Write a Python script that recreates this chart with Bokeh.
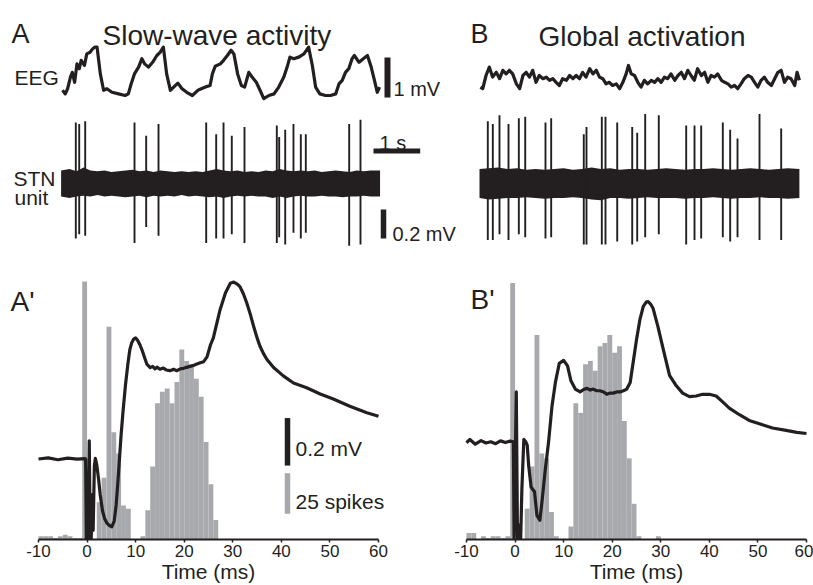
from bokeh.plotting import figure
from bokeh.models import Range1d, LinearAxis, FixedTicker, Label
from bokeh.layouts import column, row
from bokeh.embed import file_html
from bokeh.resources import INLINE

INK = "#231f20"
GREY = "#a7a9ac"
FONT = "Liberation Sans"

# ---------------- data: top traces (time in s, voltage in mV) ----------------
eegA_t = [0.00, 0.06, 0.11, 0.17, 0.21, 0.26, 0.31, 0.36, 0.40, 0.47,
          0.52, 0.59, 0.64, 0.69, 0.74, 0.81, 0.88, 0.95, 1.06, 1.20,
          1.34, 1.41, 1.47, 1.54, 1.63, 1.70, 1.76, 1.84, 1.93, 2.02,
          2.09, 2.16, 2.23, 2.31, 2.38, 2.47, 2.56, 2.66, 2.78, 2.91,
          3.06, 3.16, 3.21, 3.27, 3.38, 3.45, 3.53, 3.61, 3.67, 3.75,
          3.83, 3.90, 3.99, 4.06, 4.15, 4.23, 4.31, 4.42, 4.53, 4.63,
          4.74, 4.81, 4.87, 4.95, 5.06, 5.17, 5.27, 5.35, 5.42, 5.51,
          5.63, 5.74, 5.85, 5.92, 5.99, 6.06, 6.13, 6.20, 6.25, 6.35,
          6.44, 6.53, 6.61, 6.68, 6.74, 6.79]
eegA_v = [0.18, 0.09, 0.22, 0.51, 0.63, 0.38, 0.84, 0.72, 0.93, 0.80,
          1.09, 1.13, 1.21, 1.26, 1.26, 0.59, 0.18, 0.22, 0.13, 0.09,
          0.05, 0.09, 0.34, 0.59, 0.76, 0.97, 0.84, 0.76, 0.88, 1.05,
          1.13, 1.26, 0.59, 0.18, 0.26, 0.36, 0.22, 0.13, 0.05, 0.19,
          0.26, 0.30, 0.59, 0.78, 0.84, 0.93, 1.05, 1.18, 1.09, 0.59,
          0.30, 0.26, 0.63, 0.51, 0.38, 0.18, -0.03, 0.05, 0.09, 0.26,
          0.51, 0.76, 1.01, 0.97, 1.01, 1.09, 1.26, 0.80, 0.26, 0.09,
          0.05, 0.05, 0.09, 0.34, 0.43, 0.63, 0.72, 0.97, 1.05, 0.88,
          0.97, 1.05, 0.76, 0.43, 0.13, 0.26]

eegB_t = [0.02, 0.07, 0.14, 0.21, 0.28, 0.36, 0.43, 0.50, 0.57, 0.64,
          0.71, 0.79, 0.86, 0.93, 1.00, 1.07, 1.14, 1.21, 1.28, 1.36,
          1.43, 1.50, 1.57, 1.64, 1.71, 1.78, 1.86, 1.93, 2.00, 2.07,
          2.14, 2.21, 2.28, 2.36, 2.43, 2.50, 2.57, 2.64, 2.71, 2.78,
          2.85, 2.93, 3.00, 3.07, 3.14, 3.19, 3.25, 3.32, 3.39, 3.46,
          3.53, 3.60, 3.68, 3.75, 3.82, 3.89, 3.96, 4.03, 4.10, 4.18,
          4.25, 4.32, 4.39, 4.46, 4.53, 4.60, 4.67, 4.75, 4.82, 4.89,
          4.96, 5.03, 5.10, 5.18, 5.25, 5.32, 5.39, 5.46, 5.53, 5.60,
          5.67, 5.75, 5.82, 5.89, 5.96, 6.03, 6.10, 6.17, 6.25, 6.32,
          6.39, 6.46, 6.53, 6.60, 6.67, 6.75, 6.80, 6.85]
eegB_v = [0.26, 0.22, 0.55, 0.76, 0.51, 0.63, 0.47, 0.68, 0.59, 0.68,
          0.59, 0.34, 0.22, 0.55, 0.63, 0.51, 0.68, 0.38, 0.55, 0.47,
          0.51, 0.43, 0.47, 0.38, 0.30, 0.47, 0.43, 0.55, 0.47, 0.55,
          0.47, 0.63, 0.51, 0.72, 0.59, 0.68, 0.51, 0.47, 0.34, 0.38,
          0.30, 0.34, 0.22, 0.38, 0.59, 0.80, 0.59, 0.55, 0.38, 0.26,
          0.43, 0.34, 0.43, 0.38, 0.47, 0.38, 0.51, 0.47, 0.59, 0.43,
          0.55, 0.63, 0.47, 0.68, 0.55, 0.43, 0.72, 0.55, 0.63, 0.38,
          0.55, 0.51, 0.59, 0.43, 0.38, 0.34, 0.26, 0.30, 0.22, 0.34,
          0.47, 0.55, 0.51, 0.38, 0.26, 0.43, 0.51, 0.38, 0.30, 0.47,
          0.63, 0.68, 0.38, 0.51, 0.47, 0.30, 0.63, 0.43]

# STN unit: background noise envelope (mV) and spikes (time s, peak mV, trough mV)
bandA_t = [-0.03, 0.15, 0.3, 0.45, 0.6, 0.75, 0.9, 1.05, 1.2, 1.35, 1.5, 1.65,
           1.8, 1.95, 2.1, 2.25, 2.4, 2.55, 2.7, 2.85, 3.0, 3.15, 3.3, 3.45,
           3.6, 3.75, 3.9, 4.05, 4.2, 4.35, 4.5, 4.65, 4.8, 4.95, 5.1, 5.25,
           5.4, 5.55, 5.7, 5.85, 6.0, 6.15, 6.3, 6.45, 6.6, 6.80]
bandA_hi = [0.09, 0.10, 0.085, 0.11, 0.09, 0.085, 0.09, 0.08, 0.085, 0.09, 0.095, 0.085,
            0.09, 0.08, 0.09, 0.085, 0.08, 0.085, 0.08, 0.085, 0.08, 0.09, 0.10, 0.09,
            0.085, 0.09, 0.08, 0.085, 0.08, 0.09, 0.085, 0.10, 0.09, 0.085, 0.09, 0.085,
            0.09, 0.08, 0.085, 0.09, 0.085, 0.08, 0.09, 0.085, 0.09, 0.09]
bandA_lo = [-0.09, -0.10, -0.09, -0.085, -0.09, -0.08, -0.09, -0.085, -0.09, -0.095, -0.09, -0.085,
            -0.095, -0.085, -0.09, -0.085, -0.09, -0.08, -0.09, -0.085, -0.09, -0.095, -0.09, -0.10,
            -0.09, -0.085, -0.09, -0.085, -0.09, -0.09, -0.1, -0.09, -0.10, -0.09, -0.085, -0.09,
            -0.09, -0.085, -0.09, -0.09, -0.095, -0.09, -0.09, -0.085, -0.09, -0.09]
spkA_t = [0.285, 0.358, 0.486, 1.542, 1.792, 2.056, 3.077, 3.291, 3.448, 3.625,
          3.897, 4.589, 4.640, 4.769, 4.946, 5.103, 5.210, 6.139, 6.381]
spkA_up = [0.42, 0.41, 0.43, 0.42, 0.33, 0.41, 0.42, 0.34, 0.42, 0.33,
           0.39, 0.40, 0.32, 0.37, 0.41, 0.34, 0.34, 0.41, 0.44]
spkA_dn = [-0.38, -0.35, -0.36, -0.41, -0.30, -0.36, -0.41, -0.38, -0.38, -0.35,
           -0.41, -0.41, -0.37, -0.42, -0.34, -0.38, -0.34, -0.43, -0.42]

bandB_t = [0.0, 0.2, 0.4, 0.6, 0.8, 1.0, 1.2, 1.4, 1.6, 1.8, 2.0, 2.2,
           2.4, 2.6, 2.8, 3.0, 3.2, 3.4, 3.6, 3.8, 4.0, 4.2, 4.4, 4.6,
           4.8, 5.0, 5.2, 5.4, 5.6, 5.8, 6.0, 6.2, 6.4, 6.6, 6.85]
bandB_hi = [0.10, 0.105, 0.11, 0.10, 0.105, 0.095, 0.10, 0.095, 0.10, 0.105, 0.095, 0.10,
            0.11, 0.10, 0.105, 0.095, 0.10, 0.10, 0.095, 0.10, 0.105, 0.10, 0.095, 0.10,
            0.10, 0.105, 0.10, 0.095, 0.10, 0.105, 0.10, 0.095, 0.10, 0.105, 0.10]
bandB_lo = [-0.10, -0.11, -0.105, -0.10, -0.10, -0.095, -0.10, -0.105, -0.10, -0.10, -0.095, -0.10,
            -0.11, -0.115, -0.10, -0.10, -0.105, -0.10, -0.095, -0.10, -0.10, -0.10, -0.105, -0.10,
            -0.10, -0.095, -0.10, -0.105, -0.10, -0.10, -0.095, -0.10, -0.10, -0.105, -0.10]
spkB_t = [0.178, 0.285, 0.428, 0.621, 0.842, 0.979, 1.413, 1.535, 2.233, 2.291,
          2.619, 2.698, 2.949, 3.270, 3.377, 3.548, 3.839, 4.426, 4.604, 4.747,
          5.210, 5.368, 5.525, 5.996, 6.460]
spkB_up = [0.43, 0.41, 0.47, 0.41, 0.45, 0.46, 0.42, 0.45, 0.34, 0.39,
           0.46, 0.46, 0.42, 0.39, 0.35, 0.48, 0.47, 0.40, 0.40, 0.40,
           0.42, 0.37, 0.31, 0.48, 0.38]
spkB_dn = [-0.39, -0.39, -0.35, -0.39, -0.35, -0.37, -0.38, -0.37, -0.42, -0.42,
           -0.42, -0.42, -0.40, -0.42, -0.40, -0.37, -0.35, -0.42, -0.39, -0.38,
           -0.37, -0.40, -0.37, -0.39, -0.39]

# scale bars (top panel A)
eeg_bar_mV = 1.0
time_bar_s = 1.0
unit_bar_mV = 0.2

# ---------------- data: bottom panels (time in ms) ----------------
x_ticks = [-10, 0, 10, 20, 30, 40, 50, 60]
x_tick_labels = ["-10", "0", "10", "20", "30", "40", "50", "60"]
bin_left = list(range(-10, 30))
countsA = [2, 2, 2, 1, 2, 3, 2, 1, 1, 159,
           0, 0, 23, 38, 131, 66, 53, 21, 19, 0,
           0, 2, 18, 45, 84, 91, 93, 84, 97, 117,
           110, 108, 99, 88, 60, 34, 12, 0, 0, 0]
countsB = [4, 4, 0, 2, 1, 2, 2, 1, 2, 158,
           0, 0, 19, 45, 126, 53, 50, 17, 2, 0,
           0, 8, 84, 78, 108, 110, 104, 119, 121, 126,
           115, 119, 73, 50, 22, 2, 0, 0, 0, 2]

lineA_t = [-10, -8, -6, -4, -2, -0.5, -0.3, -0.15, 0.05, 0.25, 0.45, 0.65, 0.85, 1.05,
           1.25, 1.5, 1.7, 2.0, 2.4, 2.7, 3.2, 3.6, 4.1, 4.6, 5.1, 5.6, 6.0, 6.3, 6.6,
           7.0, 7.4, 7.9, 8.4, 8.8, 9.2, 9.6, 10.0, 10.4, 10.9, 11.3, 11.8, 12.3, 13.0,
           13.5, 14.0, 14.4, 15.0, 15.7, 16.3, 17.1, 17.8, 18.5, 19.2, 19.9, 20.5, 21.2,
           22.0, 22.6, 23.3, 24.0, 24.7, 25.4, 26.0, 26.4, 27.4, 28.5, 29.5, 30.2, 31.0,
           31.5, 32.2, 32.9, 33.6, 34.3, 35.0, 35.6, 36.3, 37.0, 38.4, 40.4, 42.5, 45.2,
           48.0, 50.7, 54.1, 57.6, 60]
lineA_v = [0.0, 0.005, -0.003, 0.004, 0.0, 0.002, 0.0, -0.34, -0.2, -0.34, 0.077, -0.34, -0.34, -0.15,
           -0.3, -0.03, 0.003, -0.025, -0.09, -0.15, -0.22, -0.25, -0.27, -0.28, -0.285, -0.26, -0.19, -0.11, -0.02,
           0.10, 0.20, 0.31, 0.40, 0.46, 0.49, 0.505, 0.51, 0.50, 0.48, 0.46, 0.43, 0.40, 0.385,
           0.39, 0.38, 0.387, 0.378, 0.383, 0.375, 0.372, 0.378, 0.372, 0.38, 0.382, 0.386, 0.39,
           0.395, 0.40, 0.405, 0.41, 0.43, 0.48, 0.51, 0.545, 0.63, 0.70, 0.74, 0.745, 0.735,
           0.725, 0.695, 0.656, 0.61, 0.558, 0.51, 0.475, 0.445, 0.42, 0.385, 0.35, 0.32, 0.30,
           0.274, 0.253, 0.222, 0.195, 0.18]

lineB_t = [-10, -9.3, -8.2, -7, -6, -5, -4, -3, -2, -1, -0.35, -0.2, 0.25, 0.5, 0.8, 1.0,
           1.15, 1.4, 1.8, 2.2, 2.5, 2.8, 3.3, 4.0, 4.5, 5.1, 5.6, 6.2, 6.9, 7.6, 8.3, 9.1,
           10.0, 10.8, 11.5, 12.4, 13.4, 14.1, 14.8, 15.5, 16.1, 16.8, 17.5, 18.2, 18.9, 19.5,
           20.2, 20.9, 21.6, 22.3, 23.0, 23.7, 24.3, 25.0, 25.7, 26.4, 27.0, 27.4, 27.9, 28.4,
           29.4, 30.5, 31.8, 33.2, 34.5, 35.9, 37.3, 38.6, 40.0, 41.4, 42.8, 44.1, 46.2, 48.2,
           50.3, 53.0, 55.8, 58.0, 60]
lineB_v = [-0.004, 0.01, -0.01, 0.005, -0.005, 0.0, -0.008, 0.004, -0.003, 0.003, 0.0, -0.41, 0.21, -0.41, -0.41, -0.35,
           -0.41, -0.2, 0.01, 0.0, -0.014, -0.1, -0.19, -0.21, -0.31, -0.33, -0.24, -0.12, 0.0, 0.15, 0.25, 0.33,
           0.343, 0.32, 0.257, 0.222, 0.21, 0.22, 0.225, 0.218, 0.222, 0.215, 0.215, 0.21, 0.2, 0.205,
           0.205, 0.21, 0.21, 0.215, 0.222, 0.25, 0.333, 0.43, 0.514, 0.57, 0.588, 0.59, 0.58, 0.5625,
           0.486, 0.39, 0.28, 0.236, 0.205, 0.19, 0.193, 0.2, 0.2, 0.193, 0.167, 0.142, 0.114, 0.09,
           0.076, 0.058, 0.048, 0.04, 0.035]

# scale bars (panel A')
field_bar_mV = 0.2
spike_bar_n = 25

# ---------------- layout geometry (pixels) ----------------
TOP_H = 250
PX_PER_S = 46.7
EEG_ZERO = 97.0        # px from top where EEG = 0 mV
PX_PER_MV_EEG = 40.0
UNIT_ZERO = 183.0
PX_PER_MV_UNIT = 145.0

BOT_H = 335
FRAME_H = 292
PX_PER_MS = 340.0 / 70.0
PX_PER_SPIKE = 1.64
PX_PER_MV_FIELD = 240.0


def top_panel(width, t0px):
    p = figure(width=width, height=TOP_H,
               x_range=Range1d(-t0px / PX_PER_S, (width - t0px) / PX_PER_S),
               y_range=Range1d(-(TOP_H - EEG_ZERO) / PX_PER_MV_EEG, EEG_ZERO / PX_PER_MV_EEG),
               output_backend="svg", toolbar_location=None,
               x_axis_type=None, y_axis_type=None,
               min_border_left=0, min_border_right=0, min_border_top=0, min_border_bottom=0)
    p.extra_y_ranges = {"unit": Range1d(-(TOP_H - UNIT_ZERO) / PX_PER_MV_UNIT, UNIT_ZERO / PX_PER_MV_UNIT)}
    p.outline_line_color = None
    p.background_fill_color = "white"
    fx = lambda px: (px - t0px) / PX_PER_S
    fy = lambda py: (EEG_ZERO - py) / PX_PER_MV_EEG
    return p, fx, fy


def bottom_panel(width, axis_left, frame_left):
    # axis -10..60 spans 340 px starting at axis_left; frame runs from frame_left to figure edge
    x0 = -10 - (axis_left - frame_left) / PX_PER_MS
    x1 = 60 + (width - axis_left - 340) / PX_PER_MS
    p = figure(width=width, height=BOT_H,
               x_range=Range1d(x0, x1),
               y_range=Range1d(0, FRAME_H / PX_PER_SPIKE),
               output_backend="svg", toolbar_location=None,
               x_axis_type=None, y_axis_type=None,
               min_border_left=frame_left, min_border_right=0, min_border_top=0,
               min_border_bottom=BOT_H - FRAME_H)
    p.outline_line_color = None
    p.background_fill_color = "white"
    ax = LinearAxis(ticker=FixedTicker(ticks=x_ticks), bounds=(-10, 60),
                    major_label_overrides=dict(zip(x_ticks, x_tick_labels)),
                    axis_line_width=2, axis_line_color=INK,
                    major_tick_line_color=INK, major_tick_line_width=1.5,
                    major_tick_in=0, major_tick_out=3,
                    minor_tick_line_color=None,
                    major_label_text_font=FONT, major_label_text_font_size="17px",
                    major_label_text_color=INK, major_label_standoff=2,
                    axis_label="Time (ms)", axis_label_standoff=0,
                    axis_label_text_font=FONT, axis_label_text_font_size="21px",
                    axis_label_text_font_style="normal", axis_label_text_color=INK)
    p.add_layout(ax, "below")
    fx = lambda px: -10 + (px - axis_left) / PX_PER_MS
    fy = lambda py: (FRAME_H - py) / PX_PER_SPIKE
    return p, fx, fy


def text(p, fx, fy, px, py, s, size, align="left"):
    p.add_layout(Label(x=fx(px), y=fy(py), text=s, text_font=FONT,
                       text_font_size=f"{size}px", text_color=INK,
                       text_align=align, text_baseline="alphabetic"))


# ---------------- panel A (top left) ----------------
pA, fxA, fyA = top_panel(460, 62)
pA.line(eegA_t, eegA_v, line_color=INK, line_width=3.2, line_join="round")
pA.varea(x=bandA_t, y1=bandA_lo, y2=bandA_hi, fill_color=INK, y_range_name="unit")
pA.segment(x0=spkA_t, y0=spkA_dn, x1=spkA_t, y1=spkA_up, line_color=INK,
           line_width=1.9, y_range_name="unit")
# scale bars
pA.segment(x0=[fxA(387)], y0=[0], x1=[fxA(387)], y1=[eeg_bar_mV], line_color=INK, line_width=6)
t_bar0 = fxA(373)
pA.segment(x0=[t_bar0], y0=[(UNIT_ZERO - 150.5) / PX_PER_MV_UNIT], x1=[t_bar0 + time_bar_s],
           y1=[(UNIT_ZERO - 150.5) / PX_PER_MV_UNIT], line_color=INK, line_width=5, y_range_name="unit")
u_bar0 = (UNIT_ZERO - 238) / PX_PER_MV_UNIT
pA.segment(x0=[fxA(383)], y0=[u_bar0], x1=[fxA(383)], y1=[u_bar0 + unit_bar_mV], line_color=INK,
           line_width=5.5, y_range_name="unit")
text(pA, fxA, fyA, 11, 33, "A", 27)
text(pA, fxA, fyA, 102, 35, "Slow-wave activity", 28)
text(pA, fxA, fyA, 14, 77, "EEG", 21)
text(pA, fxA, fyA, 393, 88, "1 mV", 20)
text(pA, fxA, fyA, 379, 142, "1 s", 20)
text(pA, fxA, fyA, 13, 178, "STN", 21)
text(pA, fxA, fyA, 14, 197, "unit", 21)
text(pA, fxA, fyA, 392, 233, "0.2 mV", 20)

# ---------------- panel B (top right) ----------------
pB, fxB, fyB = top_panel(353, 19)
pB.line(eegB_t, eegB_v, line_color=INK, line_width=3.2, line_join="round")
pB.varea(x=bandB_t, y1=bandB_lo, y2=bandB_hi, fill_color=INK, y_range_name="unit")
pB.segment(x0=spkB_t, y0=spkB_dn, x1=spkB_t, y1=spkB_up, line_color=INK,
           line_width=1.9, y_range_name="unit")
text(pB, fxB, fyB, 10, 33, "B", 27)
text(pB, fxB, fyB, 78, 36, "Global activation", 28)

# ---------------- panel A' (bottom left) ----------------
pAp, fxAp, fyAp = bottom_panel(410, 38, 6)
zeroA = 210.7
pAp.extra_y_ranges = {"mV": Range1d(-(FRAME_H - zeroA) / PX_PER_MV_FIELD, zeroA / PX_PER_MV_FIELD)}
pAp.quad(left=bin_left, right=[b + 1 for b in bin_left], bottom=0, top=countsA,
         fill_color=GREY, line_color=None)
pAp.line(lineA_t, lineA_v, line_color=INK, line_width=3.2, line_join="round", y_range_name="mV")
xb = fxAp(287)
f0 = (zeroA - 217.3) / PX_PER_MV_FIELD
pAp.segment(x0=[xb], y0=[f0], x1=[xb], y1=[f0 + field_bar_mV], line_color=INK, line_width=5.5,
            y_range_name="mV")
s0 = fyAp(266)
pAp.segment(x0=[xb], y0=[s0], x1=[xb], y1=[s0 + spike_bar_n], line_color=GREY, line_width=5.5)
text(pAp, fxAp, fyAp, 10, 52, "A'", 28)
text(pAp, fxAp, fyAp, 295, 200, "0.2 mV", 21)
text(pAp, fxAp, fyAp, 295, 254, "25 spikes", 21)

# ---------------- panel B' (bottom right) ----------------
pBp, fxBp, fyBp = bottom_panel(403, 56, 49)
zeroB = 193.3
pBp.extra_y_ranges = {"mV": Range1d(-(FRAME_H - zeroB) / PX_PER_MV_FIELD, zeroB / PX_PER_MV_FIELD)}
pBp.quad(left=bin_left, right=[b + 1 for b in bin_left], bottom=0, top=countsB,
         fill_color=GREY, line_color=None)
pBp.line(lineB_t, lineB_v, line_color=INK, line_width=3.2, line_join="round", y_range_name="mV")
text(pBp, fxBp, fyBp, 60, 50, "B'", 28)

layout = column(row(pA, pB), row(pAp, pBp))
open("out.html", "w").write(file_html(layout, INLINE))
